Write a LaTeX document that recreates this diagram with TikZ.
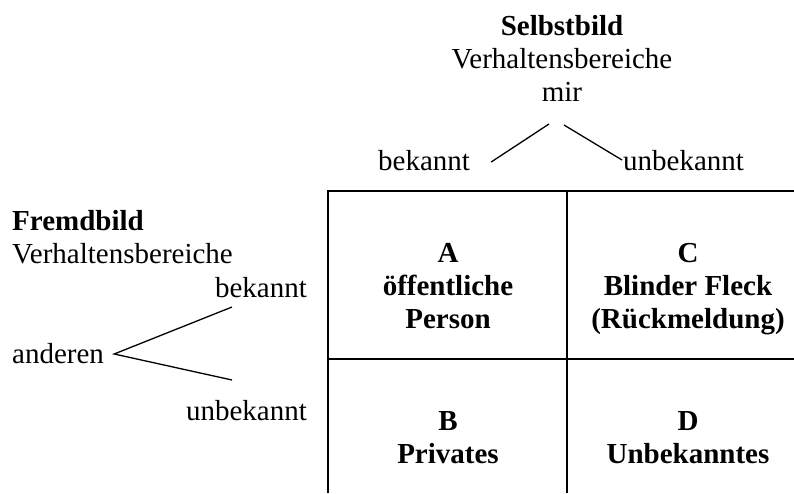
\documentclass[tikz,border=0pt]{standalone}
\usepackage{fontspec}
\setmainfont{Liberation Serif}
\usepackage{tikz}
\usetikzlibrary{positioning}
\tikzset{
  lbl/.style={inner sep=0pt, font=\fontsize{29}{33}\selectfont},
  celltext/.style={inner sep=0pt, align=center, anchor=north, font=\fontsize{29}{33}\selectfont\bfseries},
  branch/.style={line width=1.3pt},
  gridline/.style={line width=1.6pt}
}
\begin{document}
\begin{tikzpicture}[x=1pt, y=-1pt]
\useasboundingbox (0,0) rectangle (794,493);
% Selbstbild (top)
\node[lbl, align=center, anchor=south] (selbst) at (562,102) {\textbf{Selbstbild}\\Verhaltensbereiche\\mir};
\node[lbl, anchor=base west] (bekT) at (378,170) {bekannt};
\node[lbl, anchor=base west] (unbekT) at (623,170) {unbekannt};
\draw[branch] ([xshift=-13pt,yshift=-22pt]selbst.south) -- ([xshift=21pt,yshift=8pt]bekT.base east);
\draw[branch] ([xshift=2pt,yshift=-23pt]selbst.south) -- ([xshift=-1pt,yshift=10pt]unbekT.base west);
% Fremdbild (left)
\node[lbl, align=left, anchor=north west] (fremd) at (12,210) {\textbf{Fremdbild}\\Verhaltensbereiche};
\node[lbl, anchor=base east] (bekL) at (307,297) {bekannt};
\node[lbl, anchor=base west] (anderen) at (12,363) {anderen};
\node[lbl, anchor=base east] (unbekL) at (307,420) {unbekannt};
\draw[branch] ([xshift=-75pt,yshift=-10pt]bekL.base east) -- ([xshift=10pt,yshift=9pt]anderen.base east) -- ([xshift=-75pt,yshift=40pt]unbekL.base east);
% Fenster
\draw[gridline] (328,493) -- (328,191) -- (794,191);
\draw[gridline] (567,191) -- (567,493);
\draw[gridline] (328,359) -- (794,359);
\node[celltext] (cellA) at (448,243) {A\\öffentliche\\Person};
\node[celltext] (cellC) at (688,243) {C\\Blinder Fleck\\(Rückmeldung)};
\node[celltext] (cellB) at (448,411) {B\\Privates};
\node[celltext] (cellD) at (688,411) {D\\Unbekanntes};
\end{tikzpicture}
\end{document}
